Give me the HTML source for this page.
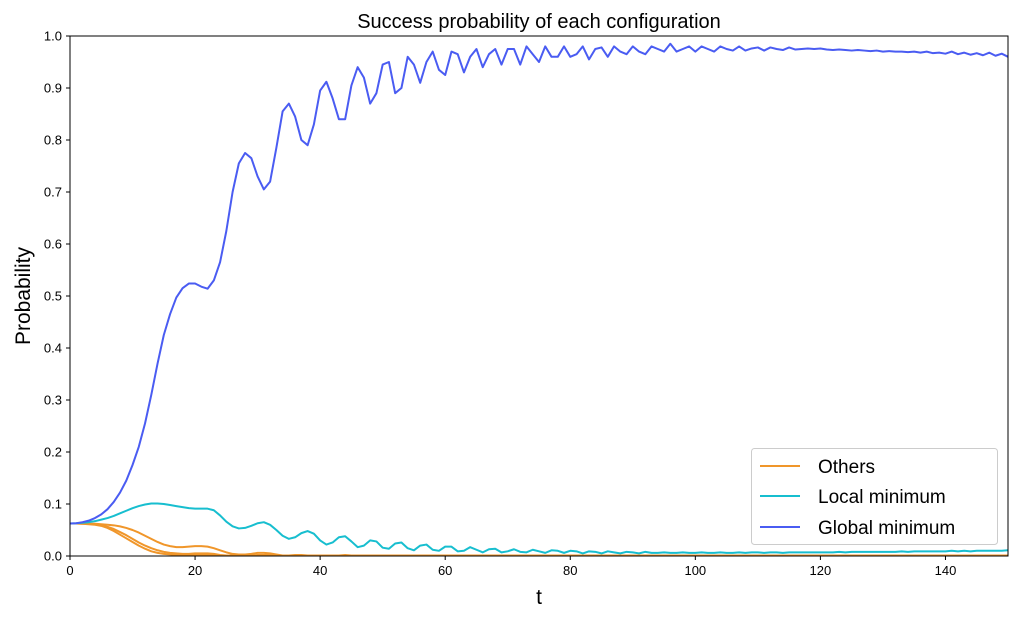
<!DOCTYPE html>
<html><head><meta charset="utf-8"><style>
body{margin:0;background:#fff;font-family:"Liberation Sans","DejaVu Sans",sans-serif}
svg{display:block}
</style></head><body>
<svg id="chart" width="1018" height="618" xmlns="http://www.w3.org/2000/svg">
<text x="539" y="28" font-size="20" text-anchor="middle">Success probability of each configuration</text>
<text x="539" y="604" font-size="21" text-anchor="middle">t</text>
<text x="30" y="296" font-size="21" text-anchor="middle" transform="rotate(-90 30 296)">Probability</text>
<g id="ticks"></g>
<g id="series" clip-path="url(#clip)"></g>
<defs><clipPath id="clip"><rect x="70" y="36" width="938" height="520"/></clipPath></defs>
<rect x="70" y="36" width="938" height="520" fill="none" stroke="#000" stroke-width="1"/>
<g>
<rect x="751.5" y="448.5" width="246" height="96" rx="3" fill="#fff" fill-opacity="0.85" stroke="#ccc"/>
<line x1="760" y1="466" x2="800" y2="466" stroke="#f0962a" stroke-width="2"/>
<text x="818" y="473" font-size="19">Others</text>
<line x1="760" y1="496" x2="800" y2="496" stroke="#17becf" stroke-width="2"/>
<text x="818" y="503" font-size="19">Local minimum</text>
<line x1="760" y1="527" x2="800" y2="527" stroke="#4a5cf2" stroke-width="2"/>
<text x="818" y="534" font-size="19">Global minimum</text>
</g>
</svg>
<script>
const xTicks=[0,20,40,60,80,100,120,140];
const yTicks=[0,0.1,0.2,0.3,0.4,0.5,0.6,0.7,0.8,0.9,1.0];
const yTickLabels=["0.0","0.1","0.2","0.3","0.4","0.5","0.6","0.7","0.8","0.9","1.0"];
const globalMin=[.0625,.063,.065,.068,.073,.080,.090,.104,.122,.145,.175,.210,.255,.31,.37,.425,.465,.497,.515,.524,.524,.518,.514,.53,.565,.625,.70,.755,.775,.765,.73,.705,.72,.785,.855,.87,.845,.80,.79,.83,.895,.912,.88,.84,.84,.905,.94,.92,.87,.89,.945,.95,.89,.9,.96,.945,.91,.95,.97,.935,.925,.97,.965,.93,.96,.975,.94,.965,.975,.945,.975,.975,.945,.98,.965,.95,.98,.96,.96,.98,.96,.965,.98,.955,.975,.978,.96,.98,.97,.965,.98,.97,.965,.98,.975,.97,.985,.97,.975,.98,.97,.98,.975,.97,.98,.975,.972,.98,.972,.976,.978,.972,.978,.975,.973,.978,.974,.975,.976,.975,.976,.974,.973,.974,.973,.972,.973,.972,.971,.972,.97,.971,.97,.97,.969,.97,.968,.97,.967,.968,.966,.97,.965,.968,.964,.967,.963,.968,.962,.966,.96];
const localMin=[.0625,.063,.064,.065,.067,.07,.073,.077,.082,.087,.092,.096,.099,.101,.101,.1,.098,.096,.094,.092,.091,.091,.091,.088,.078,.066,.057,.053,.054,.058,.063,.065,.06,.05,.039,.033,.036,.044,.048,.043,.03,.022,.026,.036,.038,.028,.017,.02,.03,.028,.016,.014,.024,.026,.015,.011,.02,.022,.012,.01,.018,.018,.009,.01,.017,.012,.007,.013,.014,.007,.009,.013,.008,.007,.012,.009,.006,.011,.01,.006,.01,.009,.005,.009,.008,.005,.009,.007,.005,.008,.007,.005,.008,.006,.006,.007,.006,.006,.007,.006,.006,.007,.006,.006,.007,.006,.006,.007,.006,.007,.007,.006,.007,.007,.006,.007,.007,.007,.007,.007,.007,.007,.007,.008,.007,.008,.008,.008,.008,.008,.008,.008,.008,.009,.008,.009,.009,.009,.009,.009,.009,.01,.009,.01,.009,.01,.01,.01,.01,.01,.011];
const othersA=[.0625,.0625,.0625,.062,.062,.061,.06,.059,.057,.054,.05,.045,.039,.033,.027,.022,.019,.017,.017,.018,.019,.019,.018,.015,.011,.007,.004,.003,.003,.004,.006,.006,.005,.003,.001,.001,.002,.002,.001,.001,.001,.001,.001,.001,.002,.001,.001,.001,.001,.001,.001,.001,.001,.001,.001,.001,.001,.001,.001,.001,.001,.001,.001,.001,.001,.001,.001,.001,.001,.001,.001,.001,.001,.001,.001,.001,.001,.001,.001,.001,.001,.001,.001,.001,.001,.001,.001,.001,.001,.001,.001,.001,.001,.001,.001,.001,.001,.001,.001,.001,.001,.001,.001,.001,.001,.001,.001,.001,.001,.001,.001,.001,.001,.001,.001,.001,.001,.001,.001,.001,.001,.001,.001,.001,.001,.001,.001,.001,.001,.001,.001,.001,.001,.001,.001,.001,.001,.001,.001,.001,.001,.001,.001,.001,.001,.001,.001,.001,.001,.001,.001];
const othersB=[.0625,.0625,.062,.062,.061,.059,.056,.052,.046,.04,.033,.026,.02,.015,.011,.008,.006,.005,.004,.004,.005,.005,.005,.004,.002,.001,.001,.001,.001,.001,.002,.002,.002,.001,.001,.001,.001,.001,.001,.001,.001,.001,.001,.001,.001,.001,.001,.001,.001,.001,.001,.001,.001,.001,.001,.001,.001,.001,.001,.001,.001,.001,.001,.001,.001,.001,.001,.001,.001,.001,.001,.001,.001,.001,.001,.001,.001,.001,.001,.001,.001,.001,.001,.001,.001,.001,.001,.001,.001,.001,.001,.001,.001,.001,.001,.001,.001,.001,.001,.001,.001,.001,.001,.001,.001,.001,.001,.001,.001,.001,.001,.001,.001,.001,.001,.001,.001,.001,.001,.001,.001,.001,.001,.001,.001,.001,.001,.001,.001,.001,.001,.001,.001,.001,.001,.001,.001,.001,.001,.001,.001,.001,.001,.001,.001,.001,.001,.001,.001,.001,.001];
const othersC=[.0625,.0625,.062,.061,.06,.058,.054,.048,.041,.034,.027,.02,.014,.009,.006,.004,.003,.002,.002,.002,.002,.002,.002,.001,.001,.001,.001,.001,.001,.001,.001,.001,.001,.001,.001,.001,.001,.001,.001,.001,.001,.001,.001,.001,.001,.001,.001,.001,.001,.001,.001,.001,.001,.001,.001,.001,.001,.001,.001,.001,.001,.001,.001,.001,.001,.001,.001,.001,.001,.001,.001,.001,.001,.001,.001,.001,.001,.001,.001,.001,.001,.001,.001,.001,.001,.001,.001,.001,.001,.001,.001,.001,.001,.001,.001,.001,.001,.001,.001,.001,.001,.001,.001,.001,.001,.001,.001,.001,.001,.001,.001,.001,.001,.001,.001,.001,.001,.001,.001,.001,.001,.001,.001,.001,.001,.001,.001,.001,.001,.001,.001,.001,.001,.001,.001,.001,.001,.001,.001,.001,.001,.001,.001,.001,.001,.001,.001,.001,.001,.001,.001];
const X=t=>70+t*(938/150), Y=p=>556-p*520;
const NS="http://www.w3.org/2000/svg";
const ticks=document.getElementById('ticks'), ser=document.getElementById('series');
function mk(tag,attrs,parent){const e=document.createElementNS(NS,tag);for(const k in attrs)e.setAttribute(k,attrs[k]);parent.appendChild(e);return e;}
xTicks.forEach(v=>{
 const l=mk('line',{x1:X(v),x2:X(v),y1:556,y2:560,stroke:'#000'},ticks);
 
 
 const t=mk('text',{x:X(v),y:575,'font-size':13,'text-anchor':'middle'},ticks);t.textContent=v;
 
 
});
yTicks.forEach((v,i)=>{
 const l=mk('line',{x1:66,x2:70,y1:Y(v),y2:Y(v),stroke:'#000'},ticks);
 
 
 const t=mk('text',{x:62,y:Y(v)+4.5,'font-size':13,'text-anchor':'end'},ticks);t.textContent=yTickLabels[i];
 
 
});
function line(arr,color,name){
 const d=arr.map((p,i)=>(i?'L':'M')+X(i).toFixed(2)+' '+Y(p).toFixed(2)).join('');
 const pth=mk('path',{d:d,fill:'none',stroke:color,'stroke-width':2,'stroke-linejoin':'round'},ser);
 
 
}
line(othersA,'#f0962a','others-line-a');
line(othersB,'#f0962a','others-line-b');
line(othersC,'#f0962a','others-line-c');
line(localMin,'#17becf','local-minimum-line');
line(globalMin,'#4a5cf2','global-minimum-line');
</script>
</body></html>
